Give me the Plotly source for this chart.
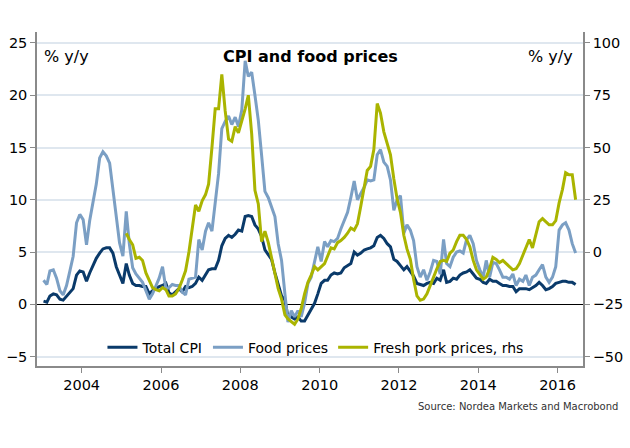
import pandas as pd
import plotly.graph_objects as go

# Monthly data, Jan 2003 - Jun 2016
dates = pd.date_range("2003-01-01", periods=162, freq="MS") + pd.Timedelta(days=14)

total_cpi = [0.3, 0.2, 0.8, 1.0, 0.9, 0.5, 0.4, 0.8, 1.1, 1.5,
             2.8, 3.2, 3.1, 2.2, 3.0, 3.8, 4.4, 4.9, 5.3, 5.4,
             5.4, 4.9, 3.6, 2.8, 2.0, 3.9, 2.8, 2.0, 1.8, 1.8,
             1.7, 1.7, 1.0, 1.3, 1.5, 1.7, 1.8, 2.0, 1.1, 0.9,
             1.2, 1.5, 1.2, 1.7, 1.6, 1.7, 2.0, 2.6, 2.3, 2.8,
             3.3, 3.4, 3.4, 4.2, 5.6, 6.3, 6.6, 6.4, 6.7, 7.1,
             7.0, 8.4, 8.5, 8.4, 7.6, 7.2, 6.5, 5.2, 4.8, 4.3,
             3.0, 2.0, 0.8, 0.4, -1.2, -1.2, -1.4, -1.2, -1.6, -1.6,
             -1.0, -0.5, 0.1, 1.0, 2.0, 2.3, 2.3, 2.8, 3.0, 2.9,
             3.0, 3.5, 3.7, 3.9, 5.0, 4.7, 4.9, 5.2, 5.3, 5.4,
             5.6, 6.4, 6.6, 6.3, 5.8, 5.5, 4.3, 4.1, 3.7, 3.3,
             3.6, 3.1, 2.7, 2.0, 1.9, 1.8, 2.0, 2.1, 2.0, 2.5,
             2.3, 3.3, 2.1, 2.2, 2.5, 2.4, 2.8, 3.0, 3.1, 3.3,
             2.9, 2.5, 2.4, 2.1, 2.0, 2.4, 2.2, 2.2, 2.0, 1.8,
             1.8, 1.7, 1.7, 1.2, 1.5, 1.5, 1.5, 1.4, 1.6, 1.8,
             2.1, 1.8, 1.4, 1.5, 1.7, 2.0, 2.1, 2.2, 2.2, 2.1,
             2.1, 1.9]

food_prices = [2.3, 1.9, 3.2, 3.3, 2.5, 1.3, 0.9, 1.8, 3.2, 4.6,
               7.8, 8.6, 8.1, 5.7, 8.0, 10.0, 11.5, 14.0, 14.6, 14.2,
               13.5, 11.0, 8.5, 5.9, 4.6, 8.9, 5.8, 3.5, 2.9, 2.5,
               2.1, 1.3, 0.5, 1.0, 1.8, 2.5, 3.6, 1.5, 1.6, 1.9,
               1.8, 1.8, 1.2, 0.9, 2.4, 2.5, 2.6, 6.2, 5.2, 7.0,
               7.8, 7.0, 9.5, 12.5, 16.8, 17.5, 18.0, 17.2, 17.9, 17.0,
               18.6, 23.3, 21.8, 22.2, 20.0, 17.6, 14.3, 10.8, 10.2, 9.4,
               8.4, 5.8, 4.2, 1.0, -1.7, -0.6, -1.2, -0.6, -1.2, 0.1,
               2.0, 2.6, 4.0, 5.5, 4.1, 6.0, 5.5, 6.1, 6.0, 6.3,
               7.2, 8.0, 8.8, 10.2, 11.8, 10.0, 10.6, 11.2, 11.9, 11.8,
               11.9, 14.3, 14.8, 13.6, 13.2, 11.9, 9.0, 10.0, 10.4, 6.8,
               7.6, 7.1, 6.1, 3.6, 2.6, 3.3, 2.3, 3.1, 4.2, 4.1,
               2.9, 6.2, 3.9, 3.6, 4.5, 5.0, 5.1, 4.9, 6.2, 6.6,
               5.8, 4.2, 3.3, 2.6, 4.2, 2.6, 4.0, 3.9, 3.3, 2.6,
               2.6, 2.4, 2.9, 1.8, 2.4, 2.2, 2.8, 1.8, 2.6, 2.8,
               3.3, 3.8, 2.6, 2.1, 2.6, 3.6, 7.1, 7.6, 7.8, 7.1,
               5.8, 4.9]

# Fresh pork prices (right-hand scale), starting Feb 2005
fresh_pork = [None] * 25 + [
    9, 6, 3.5, -3, -2.5, -4, -10, -14, -17, -18,
    -18.5, -17, -18, -21, -21, -20, -17.5, -13.5, -9, 0,
    11.5, 22.5, 19.5, 24.5, 27.5, 32.5, 50, 68.5, 68.5, 85,
    67.5, 54, 53, 60, 57, 62.5, 68.5, 75, 56.5, 29.5,
    23, 5, 10, 4.5, -3, -9, -17.5, -22.5, -30, -32,
    -33.5, -34.5, -32, -27, -20, -14.5, -11, -7, -8.5, -7,
    -5.5, -2, 2, 1.5, 4.5, 5.5, 7, 9, 11.5, 10.5,
    13.5, 22, 32, 39, 41, 49, 71, 66.5, 57.5, 52.5,
    46.5, 35, 25.5, 19, 8, 1.5, -3.5, -13, -21, -23,
    -22.5, -20, -16.5, -12, -8, -4.5, -4, -4.5, -0.5, 1,
    5, 8, 8, 6, 2.5, -4, -8.5, -11, -13, -12,
    -8, -2.5, -3.5, -5, -4, -5.5, -7, -8.5, -8, -5.5,
    -1.5, 2, 6, 2, 9, 14.5, 16, 14.5, 13, 13,
    15, 23.5, 30, 38, 37, 37, 25]

left_ticks = [-5, 0, 5, 10, 15, 20, 25]
right_ticks = [-50, -25, 0, 25, 50, 75, 100]

FONT = "Verdana, DejaVu Sans, sans-serif"
C_CPI = "#0a3a6a"
C_FOOD = "#7b9fc4"
C_PORK = "#aab400"
AXIS = "#8a8a8a"

fig = go.Figure()
fig.add_trace(go.Scatter(x=dates, y=total_cpi, name="Total CPI", mode="lines",
                         line=dict(color=C_CPI, width=3)))
fig.add_trace(go.Scatter(x=dates, y=food_prices, name="Food prices", mode="lines",
                         line=dict(color=C_FOOD, width=3)))
fig.add_trace(go.Scatter(x=dates, y=fresh_pork, name="Fresh pork prices, rhs", mode="lines",
                         yaxis="y2", line=dict(color=C_PORK, width=3)))

fig.update_layout(
    width=630, height=448,
    margin=dict(l=37, r=47, t=32, b=82, autoexpand=False),
    paper_bgcolor="white", plot_bgcolor="white",
    font=dict(family=FONT, size=14, color="black"),
    showlegend=True,
    legend=dict(orientation="h", x=0.51, xanchor="center", y=0.055, yanchor="middle",
                bgcolor="rgba(0,0,0,0)", font=dict(size=14), itemwidth=30,
                tracegroupgap=0),
    xaxis=dict(type="date", range=["2002-11-16", "2016-08-22"],
               tick0="2004-01-01", dtick="M24", tickformat="%Y",
               showline=True, linecolor=AXIS, linewidth=1.5,
               ticks="outside", ticklen=5, tickcolor=AXIS, automargin=False,
               showgrid=False, zeroline=False, tickfont=dict(size=14.5)),
    yaxis=dict(range=[-5.9, 26.05], tickvals=left_ticks,
               showline=True, linecolor=AXIS, linewidth=1.5,
               ticks="outside", ticklen=5, tickcolor=AXIS, automargin=False,
               showgrid=True, gridcolor="#dfe7ef", gridwidth=1.5,
               zeroline=True, zerolinecolor="black", zerolinewidth=1,
               tickfont=dict(size=14.5)),
    yaxis2=dict(range=[-54.5, 105.25], tickvals=right_ticks, overlaying="y", side="right",
                showline=True, linecolor=AXIS, linewidth=1.5,
                ticks="outside", ticklen=5, tickcolor=AXIS, automargin=False,
                showgrid=False, zeroline=False, tickfont=dict(size=14.5)),
)

fig.add_annotation(text="<b>CPI and food prices</b>", xref="paper", yref="paper",
                   x=0.5, y=0.928, xanchor="center", yanchor="middle",
                   showarrow=False, font=dict(size=16))
fig.add_annotation(text="% y/y", xref="paper", yref="paper", x=0.0097, y=0.928,
                   xanchor="left", yanchor="middle", showarrow=False, font=dict(size=16))
fig.add_annotation(text="% y/y", xref="paper", yref="paper", x=0.9853, y=0.928,
                   xanchor="right", yanchor="middle", showarrow=False, font=dict(size=16))
fig.add_annotation(text="Source: Nordea Markets and Macrobond", xref="paper", yref="paper",
                   x=1.0678, y=-0.12, xanchor="right", yanchor="middle", showarrow=False,
                   font=dict(size=10, color="#333333"))

fig.write_html("out.html", config={"displayModeBar": False},
               post_script="document.body.style.margin='0';")
